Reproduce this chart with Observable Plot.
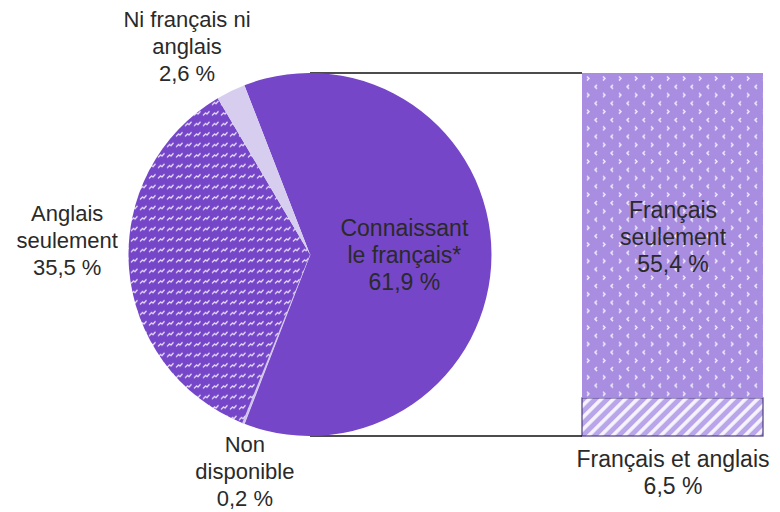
<!DOCTYPE html>
<html><head><meta charset="utf-8">
<script src="https://cdn.jsdelivr.net/npm/d3@7"></script>
<script src="https://cdn.jsdelivr.net/npm/@observablehq/plot@0.6"></script>
<style>body{margin:0;background:#fff;font-family:"Liberation Sans",Arial,sans-serif}</style>
</head><body><div id="chart"></div>
<script>
// ---- data ----
const pieCategories = ["Connaissant le français*", "Non disponible", "Anglais seulement", "Ni français ni anglais"];
const pieValues = [61.9, 0.2, 35.5, 2.6];
const pieLabels = [["Connaissant", "le français*", "61,9 %"], ["Non", "disponible", "0,2 %"], ["Anglais", "seulement", "35,5 %"], ["Ni français ni", "anglais", "2,6 %"]];
const barCategories = ["Français et anglais", "Français seulement"];
const barValues = [6.5, 55.4];
const barLabels = [["Français et anglais", "6,5 %"], ["Français", "seulement", "55,4 %"]];

// ---- style / layout ----
const pieFills = ["#7646c8", "#cfc2ec", "url(#pat-anglais)", "#d6cdef"];
const barFills = ["url(#pat-fa)", "url(#pat-fs)"];
const barStrokes = ["#4d3b7c", "none"];
const pieCenterX = 310;
const labelPolar = [[0.52, 90], [1.248, 196.7], [1.34, 273.3], [1.331, 329.4]]; // radius factor, angle clockwise from top
const labelSizes = [23, 22, 22, 22];
const fontSize = 23, lineH = 27, textColor = "#2a2a2a";

const total = d3.sum(barValues);
let acc = 0;
const barData = barCategories.map((c, i) => {
  const d = {category: c, value: barValues[i], fill: barFills[i], stroke: barStrokes[i], y1: acc, y2: acc + barValues[i], text: barLabels[i].join("\n")};
  d.ymid = (d.y1 + d.y2) / 2;
  acc += barValues[i];
  return d;
});
const barKey = "bar";

function defsMark() {
  const g = d3.create("svg:g");
  const defs = g.append("defs");
  const pa = defs.append("pattern").attr("id", "pat-anglais").attr("patternUnits", "userSpaceOnUse").attr("width", 9).attr("height", 10.5);
  pa.append("rect").attr("width", 9).attr("height", 10.5).attr("fill", "#7646c8");
  pa.append("path").attr("d", "M1,8 L3.5,5.5 L5,6.5 L7.5,3.8").attr("fill", "none").attr("stroke", "#f2ecff").attr("stroke-width", 1.2);
  const ps = defs.append("pattern").attr("id", "pat-fs").attr("patternUnits", "userSpaceOnUse").attr("width", 16).attr("height", 16.6).attr("x", 584).attr("y", 75);
  ps.append("rect").attr("width", 16).attr("height", 16.6).attr("fill", "#a88de1");
  ps.append("path").attr("d", "M3,1.5 L5,3.5 L3,5.5 M13,9.8 L11,11.8 L13,13.8").attr("fill", "none").attr("stroke", "#eee8fb").attr("stroke-width", 1.5);
  const pf = defs.append("pattern").attr("id", "pat-fa").attr("patternUnits", "userSpaceOnUse").attr("width", 8.5).attr("height", 8.5).attr("patternTransform", "rotate(45)");
  pf.append("rect").attr("width", 8.5).attr("height", 8.5).attr("fill", "#b8a5ea");
  pf.append("rect").attr("width", 3.6).attr("height", 8.5).attr("fill", "#f6f3fe");
  return g.node();
}

function pieMark(index, scales) {
  const y = scales.y;
  const R = (y(0) - y(total)) / 2;
  const cy = (y(0) + y(total)) / 2;
  const cx = pieCenterX;
  const frac = pieValues[0] / d3.sum(pieValues);
  const start = Math.PI / 2 - frac * Math.PI;
  const arcs = d3.pie().sort(null).value(d => d).startAngle(start).endAngle(start + 2 * Math.PI)(pieValues);
  const arc = d3.arc().innerRadius(0).outerRadius(R);
  const g = d3.create("svg:g");
  const bx = scales.x(barKey);
  g.append("line").attr("x1", cx).attr("x2", bx).attr("y1", y(total)).attr("y2", y(total)).attr("stroke", "#111").attr("stroke-width", 1.3);
  g.append("line").attr("x1", cx).attr("x2", bx).attr("y1", y(0)).attr("y2", y(0)).attr("stroke", "#111").attr("stroke-width", 1.3);
  const pg = g.append("g").attr("transform", `translate(${cx},${cy})`);
  pg.selectAll("path").data(arcs).join("path")
    .attr("d", arc)
    .attr("fill", (d, i) => pieFills[i])
    .attr("stroke", (d, i) => i === 1 ? "#d8cdf2" : "none")
    .attr("stroke-width", 0.8);
  pieLabels.forEach((lines, i) => {
    const [rf, deg] = labelPolar[i];
    const a = deg * Math.PI / 180;
    const lx = cx + rf * R * Math.sin(a);
    const ly = cy - rf * R * Math.cos(a);
    const t = g.append("text").attr("text-anchor", "middle").attr("fill", textColor).attr("font-size", labelSizes[i]);
    lines.forEach((s, k) => {
      t.append("tspan").attr("x", lx).attr("y", ly + (k - (lines.length - 1) / 2) * lineH).attr("dy", "0.35em").text(s);
    });
  });
  return g.node();
}

const chart = Plot.plot({
  width: 780,
  height: 512,
  margin: 0,
  style: {fontFamily: "'Liberation Sans', Arial, sans-serif", fontSize: fontSize + "px", background: "white", color: textColor},
  x: {type: "band", domain: [barKey], range: [582, 763], padding: 0, axis: null},
  y: {domain: [0, total], range: [436, 73], axis: null},
  color: {type: "identity"},
  marks: [
    defsMark,
    Plot.barY(barData, {x: () => barKey, y1: "y1", y2: "y2", fill: "fill", stroke: "stroke", strokeWidth: 1.2}),
    pieMark,
    Plot.text(barData.filter(d => d.category === "Français seulement"), {x: () => barKey, y: "ymid", text: "text", fontSize, lineHeight: lineH / fontSize, fill: textColor}),
    Plot.text(barData.filter(d => d.category === "Français et anglais"), {x: () => barKey, y: () => 0, dy: 35.5, text: "text", fontSize, lineHeight: lineH / fontSize, fill: textColor})
  ]
});
document.getElementById("chart").append(chart);
</script>
</body></html>
